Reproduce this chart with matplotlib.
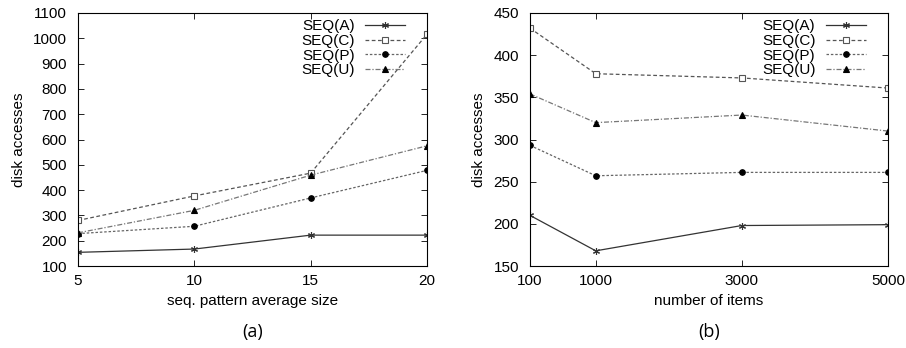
import matplotlib
matplotlib.use("Agg")
import matplotlib.pyplot as plt

plt.rcParams['font.family'] = ['Liberation Sans', 'DejaVu Sans']

# panel (a): seq. pattern average size
size_x = [5, 10, 15, 20]
size_A = [154, 167, 222, 222]
size_C = [280, 377, 467, 1016]
size_P = [228, 257, 369, 478]
size_U = [231, 320, 459, 575]

# panel (b): number of items
items_x = [100, 1000, 3000, 5000]
items_A = [210, 168, 198, 199]
items_C = [432, 378, 373, 361]
items_P = [293, 257, 261, 261]
items_U = [354, 320, 329, 310]

labels = ["SEQ(A)", "SEQ(C)", "SEQ(P)", "SEQ(U)"]
styles = [
    dict(ls='-', marker=(6, 2, 0), ms=5, color='#333333', mfc='#333333'),
    dict(ls=(0, (3, 2)), marker='s', ms=4, color='#555555', mfc='white'),
    dict(ls=(0, (2, 1.5)), marker='o', ms=4, color='#666666', mfc='black', mec='black'),
    dict(ls=(0, (4, 1.5, 1, 1.5)), marker='^', ms=4, color='#777777', mfc='black', mec='black'),
]

fig = plt.figure(figsize=(9.06, 3.48), dpi=100)
ax1 = fig.add_axes([78 / 906, 1 - 266 / 348, 349 / 906, 253 / 348])
ax2 = fig.add_axes([530 / 906, 1 - 266 / 348, 358 / 906, 253 / 348])


def draw(ax, x, series, xlabel, caption):
    for y, lab, st in zip(series, labels, styles):
        ax.plot(x, y, lw=0.9, mew=0.8, label=lab, **st)
    ax.set_xlabel(xlabel, fontsize=11, labelpad=4)
    ax.set_ylabel("disk accesses", fontsize=11, labelpad=5)
    ax.tick_params(direction='in', top=True, right=True, labelsize=11, length=4, width=0.6)
    ax.tick_params(axis='x', pad=6)
    ax.tick_params(axis='y', pad=8)
    for sp in ax.spines.values():
        sp.set_linewidth(0.8)
    ax.legend(loc='upper right', frameon=False, markerfirst=False, fontsize=11,
              handlelength=2.6, labelspacing=0.05, handletextpad=0.7,
              borderaxespad=0.0, bbox_to_anchor=(0.955, 1.0))
    pos = ax.get_position()
    fig.text((pos.x0 + pos.x1) / 2, 1 - 332 / 348, caption, ha='center', va='center',
             fontsize=13, family=['Open Sans', 'DejaVu Sans'])


draw(ax1, size_x, [size_A, size_C, size_P, size_U], "seq. pattern average size", "(a)")
ax1.set_xlim(5, 20)
ax1.set_ylim(100, 1100)
ax1.set_xticks(size_x)
ax1.set_yticks(range(100, 1101, 100))

draw(ax2, items_x, [items_A, items_C, items_P, items_U], "number of items", "(b)")
ax2.set_xlim(100, 5000)
ax2.set_ylim(150, 450)
ax2.set_xticks(items_x)
ax2.set_yticks(range(150, 451, 50))

fig.savefig("out.png", dpi=100)
